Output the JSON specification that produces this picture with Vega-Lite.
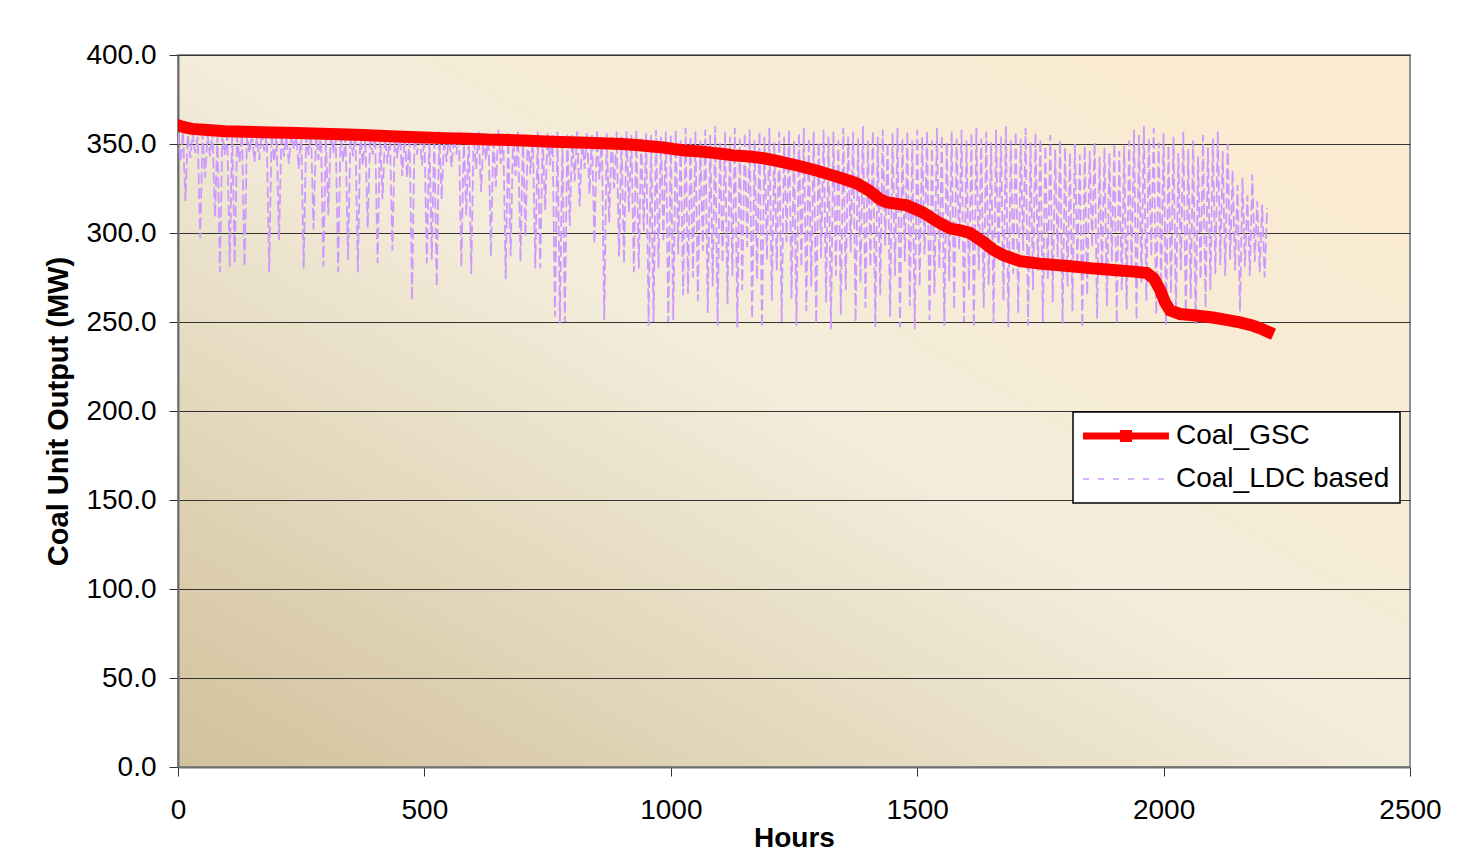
{
  "$schema": "https://vega.github.io/schema/vega-lite/v6.json",
  "autosize": {"type": "none"},
  "width": 1232,
  "height": 712,
  "padding": {"left": 178, "top": 55, "right": 69, "bottom": 99},
  "background": "white",
  "datasets": {
    "gsc": [{"h":0,"v":360.5},{"h":10,"v":359.6},{"h":28,"v":358.5},{"h":60,"v":357.9},{"h":95,"v":357.2},{"h":170,"v":356.6},{"h":241,"v":356.2},{"h":310,"v":355.6},{"h":376,"v":355},{"h":430,"v":354.3},{"h":485,"v":353.8},{"h":540,"v":353.3},{"h":590,"v":353},{"h":627,"v":352.5},{"h":700,"v":352},{"h":759,"v":351.3},{"h":830,"v":350.7},{"h":901,"v":350},{"h":930,"v":349.4},{"h":962,"v":348.6},{"h":985,"v":348},{"h":1005,"v":347.2},{"h":1029,"v":346.4},{"h":1060,"v":345.8},{"h":1086,"v":345},{"h":1110,"v":344.2},{"h":1127,"v":343.6},{"h":1160,"v":343},{"h":1188,"v":342},{"h":1216,"v":340.5},{"h":1236,"v":339.2},{"h":1263,"v":337.5},{"h":1297,"v":335},{"h":1323,"v":332.8},{"h":1350,"v":330.5},{"h":1378,"v":327.8},{"h":1404,"v":323.5},{"h":1425,"v":318.8},{"h":1439,"v":317.2},{"h":1479,"v":315.5},{"h":1512,"v":311.5},{"h":1540,"v":306.5},{"h":1567,"v":302.5},{"h":1590,"v":301.3},{"h":1607,"v":300},{"h":1634,"v":295},{"h":1655,"v":290.5},{"h":1675,"v":287.5},{"h":1709,"v":284.2},{"h":1749,"v":282.8},{"h":1817,"v":281.2},{"h":1860,"v":280},{"h":1898,"v":279.2},{"h":1940,"v":278.3},{"h":1966,"v":277.5},{"h":1980,"v":274.5},{"h":1993,"v":268},{"h":2003,"v":261},{"h":2013,"v":256.5},{"h":2033,"v":254.5},{"h":2060,"v":253.8},{"h":2100,"v":252.5},{"h":2130,"v":251},{"h":2155,"v":249.8},{"h":2180,"v":248},{"h":2196,"v":246.5},{"h":2212,"v":244.5}],
    "ldc": [{"h":0,"v":356},{"h":5,"v":340},{"h":10,"v":357},{"h":15,"v":318},{"h":20,"v":355},{"h":25,"v":342},{"h":30,"v":356},{"h":35,"v":345},{"h":40,"v":354},{"h":45,"v":297},{"h":50,"v":356},{"h":55,"v":331},{"h":60,"v":355},{"h":65,"v":343},{"h":70,"v":357},{"h":75,"v":309},{"h":80,"v":354},{"h":85,"v":278},{"h":90,"v":356},{"h":95,"v":344},
{"h":100,"v":355},{"h":105,"v":281},{"h":110,"v":357},{"h":115,"v":283},{"h":120,"v":354},{"h":125,"v":340},{"h":130,"v":356},{"h":135,"v":281},{"h":140,"v":355},{"h":145,"v":345},{"h":150,"v":356},{"h":155,"v":340},{"h":160,"v":354},{"h":165,"v":341},{"h":170,"v":357},{"h":175,"v":346},{"h":180,"v":355},{"h":185,"v":278},{"h":190,"v":356},{"h":195,"v":340},
{"h":200,"v":355},{"h":205,"v":296},{"h":210,"v":357},{"h":215,"v":343},{"h":220,"v":354},{"h":225,"v":339},{"h":230,"v":356},{"h":235,"v":347},{"h":240,"v":355},{"h":245,"v":336},{"h":250,"v":357},{"h":255,"v":280},{"h":260,"v":354},{"h":265,"v":344},{"h":270,"v":356},{"h":275,"v":302},{"h":280,"v":355},{"h":285,"v":341},{"h":290,"v":357},{"h":295,"v":281},
{"h":300,"v":354},{"h":305,"v":310},{"h":310,"v":356},{"h":315,"v":345},{"h":320,"v":355},{"h":325,"v":278},{"h":330,"v":357},{"h":335,"v":340},{"h":340,"v":354},{"h":345,"v":285},{"h":350,"v":356},{"h":355,"v":343},{"h":360,"v":355},{"h":365,"v":278},{"h":370,"v":357},{"h":375,"v":338},{"h":380,"v":354},{"h":385,"v":303},{"h":390,"v":356},{"h":395,"v":344},
{"h":400,"v":355},{"h":405,"v":283},{"h":410,"v":357},{"h":415,"v":319},{"h":420,"v":354},{"h":425,"v":339},{"h":430,"v":356},{"h":435,"v":290},{"h":440,"v":355},{"h":445,"v":342},{"h":450,"v":357},{"h":455,"v":332},{"h":460,"v":354},{"h":465,"v":331},{"h":470,"v":356},{"h":475,"v":262},{"h":480,"v":355},{"h":485,"v":344},{"h":490,"v":357},{"h":495,"v":338},
{"h":500,"v":354},{"h":505,"v":283},{"h":510,"v":356},{"h":515,"v":285},{"h":520,"v":355},{"h":525,"v":270},{"h":530,"v":357},{"h":535,"v":319},{"h":540,"v":354},{"h":545,"v":340},{"h":550,"v":356},{"h":555,"v":337},{"h":560,"v":355},{"h":565,"v":344},{"h":570,"v":357},{"h":575,"v":281},{"h":580,"v":354},{"h":585,"v":310},{"h":590,"v":356},{"h":595,"v":277},
{"h":600,"v":355},{"h":605,"v":336},{"h":610,"v":357},{"h":615,"v":323},{"h":620,"v":354},{"h":625,"v":341},{"h":630,"v":356},{"h":635,"v":287},{"h":640,"v":355},{"h":645,"v":326},{"h":650,"v":358},{"h":655,"v":339},{"h":660,"v":354},{"h":665,"v":274},{"h":670,"v":356},{"h":675,"v":287},{"h":680,"v":355},{"h":685,"v":332},{"h":690,"v":357},{"h":695,"v":284},
{"h":700,"v":354},{"h":705,"v":298},{"h":710,"v":356},{"h":715,"v":333},{"h":720,"v":355},{"h":725,"v":280},{"h":730,"v":357},{"h":735,"v":280},{"h":740,"v":354},{"h":745,"v":313},{"h":750,"v":356},{"h":755,"v":338},{"h":760,"v":355},{"h":765,"v":253},{"h":770,"v":357},{"h":775,"v":249},{"h":780,"v":354},{"h":785,"v":250},{"h":790,"v":356},{"h":795,"v":304},
{"h":800,"v":355},{"h":805,"v":329},{"h":810,"v":357},{"h":815,"v":315},{"h":820,"v":354},{"h":825,"v":336},{"h":830,"v":356},{"h":835,"v":322},{"h":840,"v":355},{"h":845,"v":294},{"h":850,"v":357},{"h":855,"v":330},{"h":860,"v":354},{"h":865,"v":251},{"h":870,"v":356},{"h":875,"v":306},{"h":880,"v":355},{"h":885,"v":325},{"h":890,"v":357},{"h":895,"v":287},
{"h":900,"v":354},{"h":905,"v":283},{"h":910,"v":357},{"h":915,"v":312},{"h":920,"v":355},{"h":925,"v":278},{"h":930,"v":358},{"h":935,"v":280},{"h":940,"v":354},{"h":945,"v":301},{"h":950,"v":356},{"h":955,"v":248},{"h":960,"v":355},{"h":965,"v":250},{"h":970,"v":358},{"h":975,"v":280},{"h":980,"v":354},{"h":985,"v":296},{"h":990,"v":357},{"h":995,"v":250},
{"h":1000,"v":355},{"h":1005,"v":251},{"h":1010,"v":358},{"h":1015,"v":288},{"h":1020,"v":353},{"h":1025,"v":265},{"h":1030,"v":359},{"h":1035,"v":266},{"h":1040,"v":354},{"h":1045,"v":275},{"h":1050,"v":357},{"h":1055,"v":262},{"h":1060,"v":352},{"h":1065,"v":290},{"h":1070,"v":358},{"h":1075,"v":255},{"h":1080,"v":355},{"h":1085,"v":270},{"h":1090,"v":360},{"h":1095,"v":248},
{"h":1100,"v":351},{"h":1105,"v":283},{"h":1110,"v":357},{"h":1115,"v":260},{"h":1120,"v":354},{"h":1125,"v":276},{"h":1130,"v":359},{"h":1135,"v":247},{"h":1140,"v":353},{"h":1145,"v":268},{"h":1150,"v":356},{"h":1155,"v":292},{"h":1160,"v":358},{"h":1165,"v":252},{"h":1170,"v":352},{"h":1175,"v":274},{"h":1180,"v":357},{"h":1185,"v":247},{"h":1190,"v":354},{"h":1195,"v":285},
{"h":1200,"v":359},{"h":1205,"v":262},{"h":1210,"v":351},{"h":1215,"v":279},{"h":1220,"v":357},{"h":1225,"v":250},{"h":1230,"v":354},{"h":1235,"v":295},{"h":1240,"v":358},{"h":1245,"v":263},{"h":1250,"v":352},{"h":1255,"v":248},{"h":1260,"v":356},{"h":1265,"v":281},{"h":1270,"v":359},{"h":1275,"v":256},{"h":1280,"v":353},{"h":1285,"v":270},{"h":1290,"v":357},{"h":1295,"v":249},
{"h":1300,"v":351},{"h":1305,"v":286},{"h":1310,"v":358},{"h":1315,"v":261},{"h":1320,"v":354},{"h":1325,"v":246},{"h":1330,"v":357},{"h":1335,"v":276},{"h":1340,"v":352},{"h":1345,"v":254},{"h":1350,"v":359},{"h":1355,"v":268},{"h":1360,"v":354},{"h":1365,"v":289},{"h":1370,"v":357},{"h":1375,"v":250},{"h":1380,"v":353},{"h":1385,"v":272},{"h":1390,"v":360},{"h":1395,"v":258},
{"h":1400,"v":352},{"h":1405,"v":281},{"h":1410,"v":357},{"h":1415,"v":247},{"h":1420,"v":354},{"h":1425,"v":265},{"h":1430,"v":358},{"h":1435,"v":293},{"h":1440,"v":351},{"h":1445,"v":253},{"h":1450,"v":356},{"h":1455,"v":276},{"h":1460,"v":359},{"h":1465,"v":247},{"h":1470,"v":353},{"h":1475,"v":284},{"h":1480,"v":357},{"h":1485,"v":259},{"h":1490,"v":352},{"h":1495,"v":246},
{"h":1500,"v":358},{"h":1505,"v":270},{"h":1510,"v":354},{"h":1515,"v":288},{"h":1520,"v":357},{"h":1525,"v":251},{"h":1530,"v":352},{"h":1535,"v":266},{"h":1540,"v":359},{"h":1545,"v":280},{"h":1550,"v":355},{"h":1555,"v":248},{"h":1560,"v":351},{"h":1565,"v":273},{"h":1570,"v":357},{"h":1575,"v":257},{"h":1580,"v":353},{"h":1585,"v":291},{"h":1590,"v":358},{"h":1595,"v":250},
{"h":1600,"v":352},{"h":1605,"v":268},{"h":1610,"v":356},{"h":1615,"v":247},{"h":1620,"v":359},{"h":1625,"v":279},{"h":1630,"v":353},{"h":1635,"v":258},{"h":1640,"v":357},{"h":1645,"v":271},{"h":1650,"v":351},{"h":1655,"v":249},{"h":1660,"v":358},{"h":1665,"v":285},{"h":1670,"v":354},{"h":1675,"v":262},{"h":1680,"v":360},{"h":1685,"v":247},{"h":1690,"v":352},{"h":1695,"v":277},
{"h":1700,"v":357},{"h":1705,"v":255},{"h":1710,"v":353},{"h":1715,"v":290},{"h":1720,"v":359},{"h":1725,"v":248},{"h":1730,"v":351},{"h":1735,"v":268},{"h":1740,"v":356},{"h":1745,"v":279},{"h":1750,"v":353},{"h":1755,"v":250},{"h":1760,"v":349},{"h":1765,"v":274},{"h":1770,"v":355},{"h":1775,"v":261},{"h":1780,"v":347},{"h":1785,"v":286},{"h":1790,"v":352},{"h":1795,"v":249},
{"h":1800,"v":348},{"h":1805,"v":270},{"h":1810,"v":345},{"h":1815,"v":256},{"h":1820,"v":350},{"h":1825,"v":281},{"h":1830,"v":344},{"h":1835,"v":247},{"h":1840,"v":349},{"h":1845,"v":265},{"h":1850,"v":346},{"h":1855,"v":292},{"h":1860,"v":351},{"h":1865,"v":252},{"h":1870,"v":343},{"h":1875,"v":276},{"h":1880,"v":348},{"h":1885,"v":259},{"h":1890,"v":345},{"h":1895,"v":284},
{"h":1900,"v":350},{"h":1905,"v":249},{"h":1910,"v":346},{"h":1915,"v":268},{"h":1920,"v":349},{"h":1925,"v":257},{"h":1930,"v":352},{"h":1935,"v":280},{"h":1940,"v":358},{"h":1945,"v":251},{"h":1950,"v":355},{"h":1955,"v":272},{"h":1960,"v":360},{"h":1965,"v":262},{"h":1970,"v":353},{"h":1975,"v":287},{"h":1980,"v":359},{"h":1985,"v":254},{"h":1990,"v":351},{"h":1995,"v":270},
{"h":2000,"v":356},{"h":2005,"v":248},{"h":2010,"v":349},{"h":2015,"v":266},{"h":2020,"v":354},{"h":2025,"v":255},{"h":2030,"v":345},{"h":2035,"v":279},{"h":2040,"v":357},{"h":2045,"v":251},{"h":2050,"v":347},{"h":2055,"v":263},{"h":2060,"v":352},{"h":2065,"v":249},{"h":2070,"v":343},{"h":2075,"v":274},{"h":2080,"v":355},{"h":2085,"v":258},{"h":2090,"v":348},{"h":2095,"v":268},
{"h":2100,"v":353},{"h":2105,"v":277},{"h":2110,"v":357},{"h":2115,"v":282},{"h":2120,"v":346},{"h":2125,"v":276},{"h":2130,"v":350},{"h":2135,"v":285},{"h":2140,"v":335},{"h":2145,"v":279},{"h":2150,"v":327},{"h":2155,"v":256},{"h":2160,"v":331},{"h":2165,"v":281},{"h":2170,"v":321},{"h":2175,"v":276},{"h":2180,"v":333},{"h":2185,"v":284},{"h":2190,"v":318},{"h":2195,"v":278},
{"h":2200,"v":316},{"h":2205,"v":275},{"h":2210,"v":314}]
  },
  "layer": [
    {
      "data": {"name": "ldc"},
      "mark": {"type": "line", "strokeWidth": 1.8, "strokeDash": [11, 4], "clip": true},
      "encoding": {
        "x": {"field": "h", "type": "quantitative"},
        "y": {"field": "v", "type": "quantitative"},
        "color": {"datum": "Coal_LDC based"}
      }
    },
    {
      "data": {"name": "gsc"},
      "mark": {"type": "line", "strokeWidth": 12, "strokeCap": "square", "strokeJoin": "miter", "clip": true},
      "encoding": {
        "x": {"field": "h", "type": "quantitative", "scale": {"domain": [0, 2500], "nice": false},
          "axis": {"values": [0, 500, 1000, 1500, 2000, 2500], "format": "d", "title": "Hours"}},
        "y": {"field": "v", "type": "quantitative", "scale": {"domain": [0, 400], "nice": false},
          "axis": {"values": [0, 50, 100, 150, 200, 250, 300, 350, 400], "format": ".1f", "title": "Coal Unit Output (MW)"}},
        "color": {
          "datum": "Coal_GSC",
          "scale": {"domain": ["Coal_GSC", "Coal_LDC based"], "range": ["#ff0000", "#cc99ff"]},
          "legend": {
            "title": null,
            "orient": "none",
            "legendX": 895,
            "legendY": 357,
            "encode": {
              "symbols": {
                "update": {
                  "shape": {"signal": "datum.value === 'Coal_GSC' ? 'M-1,0H5.14M1.89,-0.18H2.25V0.18H1.89Z' : 'M-1,0H5.14'"},
                  "strokeWidth": {"signal": "datum.value === 'Coal_GSC' ? 7 : 1.5"},
                  "strokeDash": {"signal": "datum.value === 'Coal_GSC' ? [1, 0] : [6, 9]"},
                  "fill": {"value": "transparent"}
                }
              }
            }
          }
        }
      }
    }
  ],
  "config": {
    "font": "Liberation Sans",
    "view": {
      "fill": {"gradient": "linear", "x1": 0, "y1": 1, "x2": 1, "y2": 0,
        "stops": [{"offset": 0, "color": "#d2c29c"}, {"offset": 0.5, "color": "#f3ecda"}, {"offset": 1, "color": "#fcebcf"}]},
      "stroke": "#909090",
      "strokeWidth": 2
    },
    "axis": {
      "labelFont": "Liberation Sans",
      "labelFontSize": 28,
      "labelColor": "#000000",
      "titleFont": "Liberation Sans",
      "titleFontWeight": "bold",
      "titleColor": "#000000",
      "tickColor": "#333333",
      "tickSize": 9,
      "tickWidth": 1,
      "domainColor": "#707070",
      "domainWidth": 2,
      "labelOverlap": false,
      "labelFlush": false
    },
    "axisX": {"grid": false, "labelPadding": 20, "titleFontSize": 28, "titlePadding": 0},
    "axisY": {"grid": true, "gridColor": "#333333", "gridWidth": 1, "labelPadding": 13, "titleFontSize": 29, "titlePadding": 12},
    "legend": {
      "fillColor": "#ffffff",
      "strokeColor": "#000000",
      "strokeWidth": 1.5,
      "padding": 10,
      "labelFont": "Liberation Sans",
      "labelFontSize": 28,
      "labelColor": "#000000",
      "labelLimit": 400,
      "symbolSize": 784,
      "symbolStrokeWidth": 2,
      "labelOffset": 65,
      "rowPadding": 12
    }
  }
}
